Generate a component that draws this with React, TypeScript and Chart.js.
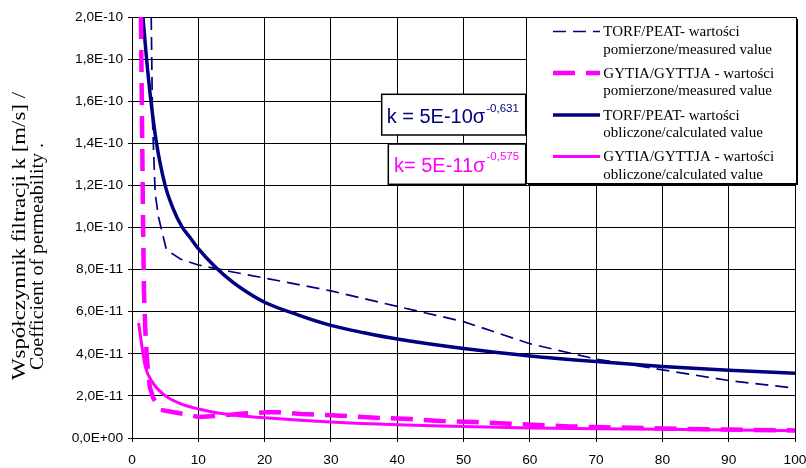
import React, { useEffect, useRef } from "react";
import { Chart, registerables } from "chart.js";

Chart.register(...registerables);

// ---- data ----
const xTicks = [0, 10, 20, 30, 40, 50, 60, 70, 80, 90, 100];
const yTicks = [0, 2e-11, 4e-11, 6e-11, 8e-11, 1e-10, 1.2e-10, 1.4e-10, 1.6e-10, 1.8e-10, 2e-10];

const peatMeasuredX = [2.9, 3.1, 3.5, 4.0, 4.6, 5.2, 7.3, 10, 14.8, 20, 30, 40, 50, 60, 70, 80, 90, 100];
const peatMeasuredY = [2.0e-10, 1.5e-10, 1.16e-10, 1.05e-10, 9.7e-11, 8.94e-11, 8.5e-11, 8.22e-11, 7.91e-11, 7.6e-11, 6.99e-11, 6.25e-11, 5.53e-11, 4.48e-11, 3.75e-11, 3.24e-11, 2.73e-11, 2.37e-11];

const gyttjaMeasuredX = [1.35, 1.65, 1.8, 2.0, 2.2, 2.4, 2.7, 3.2, 4.3, 6.3, 8.5, 10, 13.3, 16.3, 20.3, 22, 25.5, 31.5, 37.5, 42, 46.5, 51.5, 57, 62, 66, 70, 80, 90, 100];
const gyttjaMeasuredY = [2.0e-10, 1.07e-10, 7.0e-11, 5.2e-11, 4.0e-11, 3.2e-11, 2.4e-11, 1.9e-11, 1.34e-11, 1.22e-11, 1.1e-11, 1.0e-11, 1.06e-11, 1.15e-11, 1.22e-11, 1.22e-11, 1.14e-11, 1.06e-11, 9.5e-12, 9.0e-12, 8.1e-12, 7.6e-12, 6.8e-12, 6.0e-12, 5.5e-12, 5.2e-12, 4.5e-12, 4.0e-12, 3.6e-12];

const peatCalcX = [1.65, 2.2, 2.86, 3.7, 5.0, 6.2, 7.5, 8.7, 10, 12.5, 15, 17.5, 20, 25, 30, 35, 40, 50, 60, 70, 80, 90, 100];
const peatCalcY = [2.0e-10, 1.8e-10, 1.6e-10, 1.4e-10, 1.2e-10, 1.09e-10, 1.005e-10, 9.55e-11, 9.0e-11, 8.15e-11, 7.45e-11, 6.9e-11, 6.45e-11, 5.85e-11, 5.35e-11, 5.0e-11, 4.7e-11, 4.25e-11, 3.9e-11, 3.63e-11, 3.4e-11, 3.22e-11, 3.07e-11];

const gyttjaCalcX = [1.0, 1.5, 2.0, 3.0, 4.8, 7.3, 10, 14.8, 20, 30, 40, 50, 60, 70, 80, 90, 100];
const gyttjaCalcY = [5.46e-11, 4.35e-11, 3.4e-11, 2.69e-11, 2.06e-11, 1.63e-11, 1.38e-11, 1.1e-11, 9.6e-12, 7.6e-12, 6.3e-12, 5.5e-12, 4.7e-12, 4.4e-12, 4.1e-12, 3.8e-12, 3.5e-12];

const seriesLabels = [
  ["TORF/PEAT- wartości", "pomierzone/measured value"],
  ["GYTIA/GYTTJA - wartości", "pomierzone/measured value"],
  ["TORF/PEAT- wartości", "obliczone/calculated value"],
  ["GYTIA/GYTTJA - wartości", "obliczone/calculated value"],
];

const yTitleLines = ["Współczynnik filtracji k [m/s] /", "Coefficient of permeability ."];
const eqPeat = ["k = 5E-10σ", "-0,631"];
const eqGyttja = ["k= 5E-11σ", "-0,575"];

const NAVY = "#000080";
const MAGENTA = "#FF00FF";

const styles = [
  { color: NAVY, width: 1.7, dash: [13, 7] },
  { color: MAGENTA, width: 4.5, dash: [22, 11] },
  { color: NAVY, width: 3.5, dash: [] as number[] },
  { color: MAGENTA, width: 3, dash: [] as number[] },
];

function zip(xs: number[], ys: number[]) {
  return xs.map((x, i) => ({ x, y: ys[i] }));
}

function fmtSci(v: number): string {
  if (Math.abs(v) < 1e-20) return "0,0E+00";
  const [m, e] = v.toExponential(1).split("e");
  const en = parseInt(e, 10);
  const sign = en < 0 ? "-" : "+";
  return m.replace(".", ",") + "E" + sign + String(Math.abs(en)).padStart(2, "0");
}

const overlayPlugin = {
  id: "overlay",
  afterDraw(chart: any) {
    const ctx: CanvasRenderingContext2D = chart.ctx;
    ctx.save();

    // Y axis title (two rotated lines)
    ctx.fillStyle = "#000";
    ctx.font = "18px 'Liberation Serif', 'Times New Roman', serif";
    ctx.textAlign = "center";
    ctx.textBaseline = "middle";
    const titleSpecs = [
      { x: 20, y0: 380, y1: 92 },
      { x: 38.5, y0: 370, y1: 143 },
    ];
    yTitleLines.forEach((t, i) => {
      const s = titleSpecs[i];
      const w = ctx.measureText(t).width;
      const target = s.y0 - s.y1;
      ctx.save();
      ctx.translate(s.x, (s.y0 + s.y1) / 2);
      ctx.rotate(-Math.PI / 2);
      ctx.scale(target / w, 1);
      ctx.fillText(t, 0, 0);
      ctx.restore();
    });

    // Equation boxes
    const boxes = [
      { x: 381.7, y: 94.3, w: 144, h: 40.7, tx: 386.7, by: 123.3, sby: 111.7, color: NAVY, eq: eqPeat },
      { x: 388.3, y: 144, w: 137.4, h: 40.3, tx: 394, by: 172.3, sby: 160, color: MAGENTA, eq: eqGyttja },
    ];
    boxes.forEach((b) => {
      ctx.fillStyle = "#fff";
      ctx.fillRect(b.x, b.y, b.w, b.h);
      ctx.strokeStyle = "#000";
      ctx.lineWidth = 1.5;
      ctx.setLineDash([]);
      ctx.strokeRect(b.x, b.y, b.w, b.h);
      ctx.fillStyle = b.color;
      ctx.textAlign = "left";
      ctx.textBaseline = "alphabetic";
      ctx.font = "20px 'Liberation Sans', Arial, sans-serif";
      ctx.fillText(b.eq[0], b.tx, b.by);
      const w = ctx.measureText(b.eq[0]).width;
      ctx.font = "11.5px 'Liberation Sans', Arial, sans-serif";
      ctx.fillText(b.eq[1], b.tx + w + 1, b.sby);
    });

    // Legend
    const lx = 526, ly = 17, lw = 270, lh = 166;
    ctx.fillStyle = "#000";
    ctx.fillRect(lx + 2, ly + 2, lw, lh);
    ctx.fillStyle = "#fff";
    ctx.fillRect(lx, ly, lw, lh);
    ctx.strokeStyle = "#000";
    ctx.lineWidth = 1;
    ctx.strokeRect(lx + 0.5, ly + 0.5, lw, lh);

    ctx.font = "15px 'Liberation Serif', 'Times New Roman', serif";
    ctx.textAlign = "left";
    ctx.textBaseline = "middle";
    const entryY = [31.5, 73, 115, 156.5];
    seriesLabels.forEach((lines, i) => {
      const st = styles[i];
      const y = entryY[i];
      ctx.strokeStyle = st.color;
      ctx.lineWidth = st.width;
      ctx.setLineDash(st.dash);
      ctx.beginPath();
      ctx.moveTo(553, y);
      ctx.lineTo(600, y);
      ctx.stroke();
      ctx.setLineDash([]);
      ctx.fillStyle = "#000";
      ctx.fillText(lines[0], 603.3, y + 1);
      ctx.fillText(lines[1], 603.3, y + 18.5);
    });

    ctx.restore();
  },
};

export default function App() {
  const canvasRef = useRef<HTMLCanvasElement | null>(null);

  useEffect(() => {
    const canvas = canvasRef.current;
    if (!canvas) return;
    const datasets = [
      zip(peatMeasuredX, peatMeasuredY),
      zip(gyttjaMeasuredX, gyttjaMeasuredY),
      zip(peatCalcX, peatCalcY),
      zip(gyttjaCalcX, gyttjaCalcY),
    ].map((data, i) => ({
      label: seriesLabels[i].join(" "),
      data,
      borderColor: styles[i].color,
      backgroundColor: styles[i].color,
      borderWidth: styles[i].width,
      borderDash: styles[i].dash,
      pointRadius: 0,
      fill: false,
      tension: 0,
      cubicInterpolationMode: i >= 2 ? ("monotone" as const) : ("default" as const),
    }));

    const tickFont = { family: "'Liberation Sans', Arial, sans-serif", size: 13.7 };

    const chart = new Chart(canvas, {
      type: "line",
      data: { datasets },
      options: {
        responsive: false,
        animation: false,
        layout: { padding: { left: 0, right: 11, top: 17, bottom: 0 } },
        plugins: { legend: { display: false }, tooltip: { enabled: false } },
        scales: {
          x: {
            type: "linear",
            min: 0,
            max: 100,
            afterBuildTicks: (s: any) => {
              s.ticks = xTicks.map((v) => ({ value: v }));
            },
            afterFit: (s: any) => {
              s.height = 30;
              s.paddingLeft = 0;
              s.paddingRight = 0;
            },
            grid: { color: "#000", lineWidth: 1, tickLength: 4, drawTicks: true },
            border: { color: "#000", width: 1 },
            ticks: {
              font: tickFont,
              color: "#000",
              padding: 10,
              maxRotation: 0,
              autoSkip: false,
              callback: (v: any) => String(v),
            },
          },
          y: {
            type: "linear",
            min: 0,
            max: 2e-10,
            afterBuildTicks: (s: any) => {
              s.ticks = yTicks.map((v) => ({ value: v }));
            },
            afterFit: (s: any) => {
              s.width = 132;
            },
            grid: { color: "#000", lineWidth: 1, tickLength: 4, drawTicks: true },
            border: { color: "#000", width: 1 },
            ticks: {
              font: tickFont,
              color: "#000",
              padding: 5,
              autoSkip: false,
              callback: (v: any) => fmtSci(Number(v)),
            },
          },
        },
      },
      plugins: [overlayPlugin],
    } as any);

    return () => chart.destroy();
  }, []);

  return (
    <div style={{ position: "absolute", left: 0, top: 0, width: 806, height: 468, background: "#fff" }}>
      <canvas ref={canvasRef} width={806} height={468} style={{ display: "block" }} />
    </div>
  );
}
